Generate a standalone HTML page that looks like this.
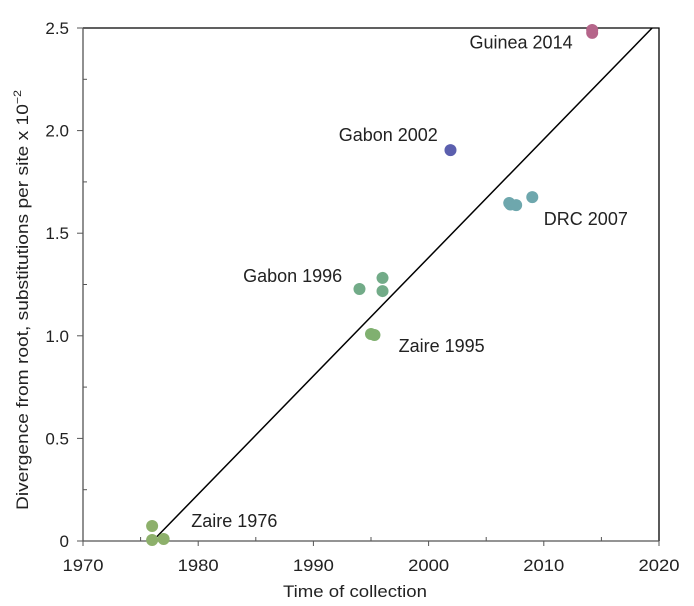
<!DOCTYPE html>
<html><head><meta charset="utf-8"><style>body{margin:0;background:#fff}svg{display:block;font-family:"Liberation Sans",sans-serif}</style></head>
<body>
<svg id="c" width="694" height="606"></svg>
<script>
const xTicks=[1970,1980,1990,2000,2010,2020];
const xMinor=[1975,1985,1995,2005,2015];
const yTicks=[0,0.5,1.0,1.5,2.0,2.5];
const yMinor=[0.25,0.75,1.25,1.75,2.25];
const yTickLabels=["0","0.5","1.0","1.5","2.0","2.5"];
const ptYears=[1976.0,1976.0,1977.0,1994.0,1996.0,1996.0,1995.0,1995.3,2001.9,2007.0,2007.1,2007.6,2009.0,2014.2,2014.2];
const ptVals=[0.073,0.005,0.01,1.228,1.282,1.218,1.009,1.004,1.905,1.647,1.640,1.637,1.676,2.476,2.49];
const ptColors=["#8db06b","#8db06b","#8db06b","#72ab88","#72ab88","#72ab88","#80b070","#80b070","#5b5fae","#6ea7ad","#6ea7ad","#6ea7ad","#6ea7ad","#b5658a","#b5658a"];
const groupLabels=["Zaire 1976","Gabon 1996","Zaire 1995","Gabon 2002","DRC 2007","Guinea 2014"];
const labelYears=[1979.4,1992.5,1997.4,2000.8,2010.0,2012.5];
const labelVals=[0.068,1.262,0.92,1.95,1.54,2.40];
const labelAnchor=["start","end","start","end","start","end"];
const fitYears=[1976.05,2019.4];
const fitVals=[0,2.5];
const L=83,R=659,T=28,B=541;
const X=v=>L+(v-1970)/50*(R-L), Y=v=>B-v/2.5*(B-T);
const s=document.getElementById('c');const NS='http://www.w3.org/2000/svg';
function el(t,a,txt){const e=document.createElementNS(NS,t);for(const k in a)e.setAttribute(k,a[k]);if(txt!==undefined)e.textContent=txt;s.appendChild(e);return e;}
let e=el('path',{d:`M${L},${T}H${R}V${B}`,fill:'none',stroke:'#000','stroke-width':1.3});

e=el('path',{d:`M${L},${T}V${B}H${R}`,fill:'none',stroke:'#555','stroke-width':1.3});

xTicks.forEach(t=>{let a=el('line',{x1:X(t),x2:X(t),y1:B,y2:B+5,stroke:'#555'});
let b=el('text',{x:X(t),y:B+30,'text-anchor':'middle','font-size':17,fill:'#222',textLength:41,lengthAdjust:'spacingAndGlyphs'},t);});
xMinor.forEach(t=>{let a=el('line',{x1:X(t),x2:X(t),y1:B-4,y2:B,stroke:'#555'});});
yTicks.forEach((t,i)=>{let a=el('line',{x1:L-6,x2:L,y1:Y(t),y2:Y(t),stroke:'#555'});
let b=el('text',{x:L-14,y:Y(t)+6,'text-anchor':'end','font-size':17,fill:'#222'},yTickLabels[i]);});
yMinor.forEach(t=>{let a=el('line',{x1:L,x2:L+4,y1:Y(t),y2:Y(t),stroke:'#555'});});
e=el('line',{x1:X(fitYears[0]),y1:Y(fitVals[0]),x2:X(fitYears[1]),y2:Y(fitVals[1]),stroke:'#000','stroke-width':1.5});

ptYears.forEach((v,i)=>{let c=el('circle',{cx:X(v),cy:Y(ptVals[i]),r:6,fill:ptColors[i]});});
groupLabels.forEach((g,i)=>{let t=el('text',{x:X(labelYears[i]),y:Y(labelVals[i]),'text-anchor':labelAnchor[i],'font-size':18,fill:'#222'},g);});
e=el('text',{x:355,y:597,'text-anchor':'middle','font-size':17,fill:'#222',textLength:144,lengthAdjust:'spacingAndGlyphs'},'Time of collection');

e=el('text',{transform:'translate(28,300) rotate(-90)','text-anchor':'middle','font-size':17,fill:'#222',textLength:420,lengthAdjust:'spacingAndGlyphs'},'Divergence from root, substitutions per site x 10');

const sup=document.createElementNS(NS,'tspan');sup.setAttribute('dy','-7');sup.setAttribute('font-size','11');sup.textContent='−2';e.appendChild(sup);
</script>
</body></html>
